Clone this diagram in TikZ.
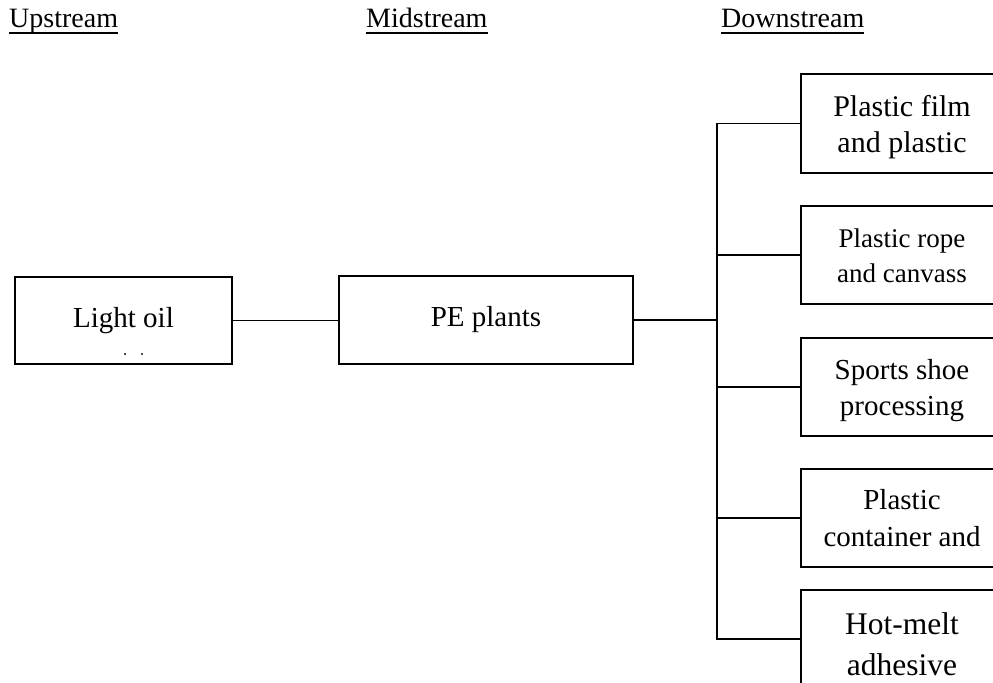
\documentclass[tikz,border=0pt]{standalone}
\usepackage{fontspec}
\setmainfont{Liberation Serif}
\newcommand\fsz[2]{\fontsize{#1bp}{#2bp}\selectfont}
\begin{document}
\begin{tikzpicture}[x=1bp,y=-1bp,
  stagebox/.style={draw, line width=1.5bp, inner sep=0pt, align=center},
  dsbox/.style={stagebox, minimum width=202bp, minimum height=98bp},
  link/.style={line width=1.5bp},
  trunk/.style={line width=2.4bp},
  head/.style={inner sep=0pt, anchor=base west, font=\fsz{28}{34}},
  uline/.style={line width=2bp}]
\useasboundingbox (0,0) rectangle (993,683);
\clip (0,0) rectangle (993,683);

% stage headings
\node[head] (up) at (9,28) {Upstream};
\node[head] (mid) at (366,28) {Midstream};
\node[head] (down) at (721,28) {Downstream};
\foreach \h in {up,mid,down}
  \draw[uline] ([yshift=-5bp]\h.base west) -- ([yshift=-5bp]\h.base east);

% upstream and midstream
\node[stagebox, minimum width=217bp, minimum height=87bp, font=\fsz{29}{35}] (oil) at (123.5,320.5)
  {\rule{0pt}{24bp}Light oil\rule[-11bp]{0pt}{11bp}};
\fill[black!70] (124,353) rectangle (126,355);
\fill[black!70] (141,353) rectangle (143,355);
\node[stagebox, minimum width=294bp, minimum height=88bp, font=\fsz{29}{35}] (pe) at (486,320)
  {\rule{0pt}{24bp}PE plants\rule[-12bp]{0pt}{12bp}};

% downstream products
\node[dsbox, minimum height=99bp, font=\fsz{30}{36}] (d1) at (902,123.5)
  {\rule{0pt}{30bp}Plastic film\\and plastic\rule[-9bp]{0pt}{9bp}};
\node[dsbox, font=\fsz{27}{35}] (d2) at (902,255)
  {\rule{0pt}{28bp}Plastic rope\\and canvass\rule[-9bp]{0pt}{9bp}};
\node[dsbox, font=\fsz{29}{36}] (d3) at (902,387)
  {\rule{0pt}{30bp}Sports shoe\\processing\rule[-10bp]{0pt}{10bp}};
\node[dsbox, font=\fsz{29}{37}] (d4) at (902,518)
  {\rule{0pt}{30bp}Plastic\\container and\rule[-11bp]{0pt}{11bp}};
\node[dsbox, font=\fsz{31.5}{41}] (d5) at (902,639)
  {\rule{0pt}{40bp}Hot-melt\\adhesive\rule[-9bp]{0pt}{9bp}};

% connectors
\coordinate (bus) at (717,320);
\draw[link] (oil.east) -- (oil.east -| pe.west);
\draw[trunk] (pe.east) -- (pe.east -| bus);
\draw[link] (d1.west) -- (d1.west -| bus) -- (d5.west -| bus) -- (d5.west);
\foreach \n in {d2,d3,d4}
  \draw[link] (\n.west) -- (\n.west -| bus);
\end{tikzpicture}
\end{document}
